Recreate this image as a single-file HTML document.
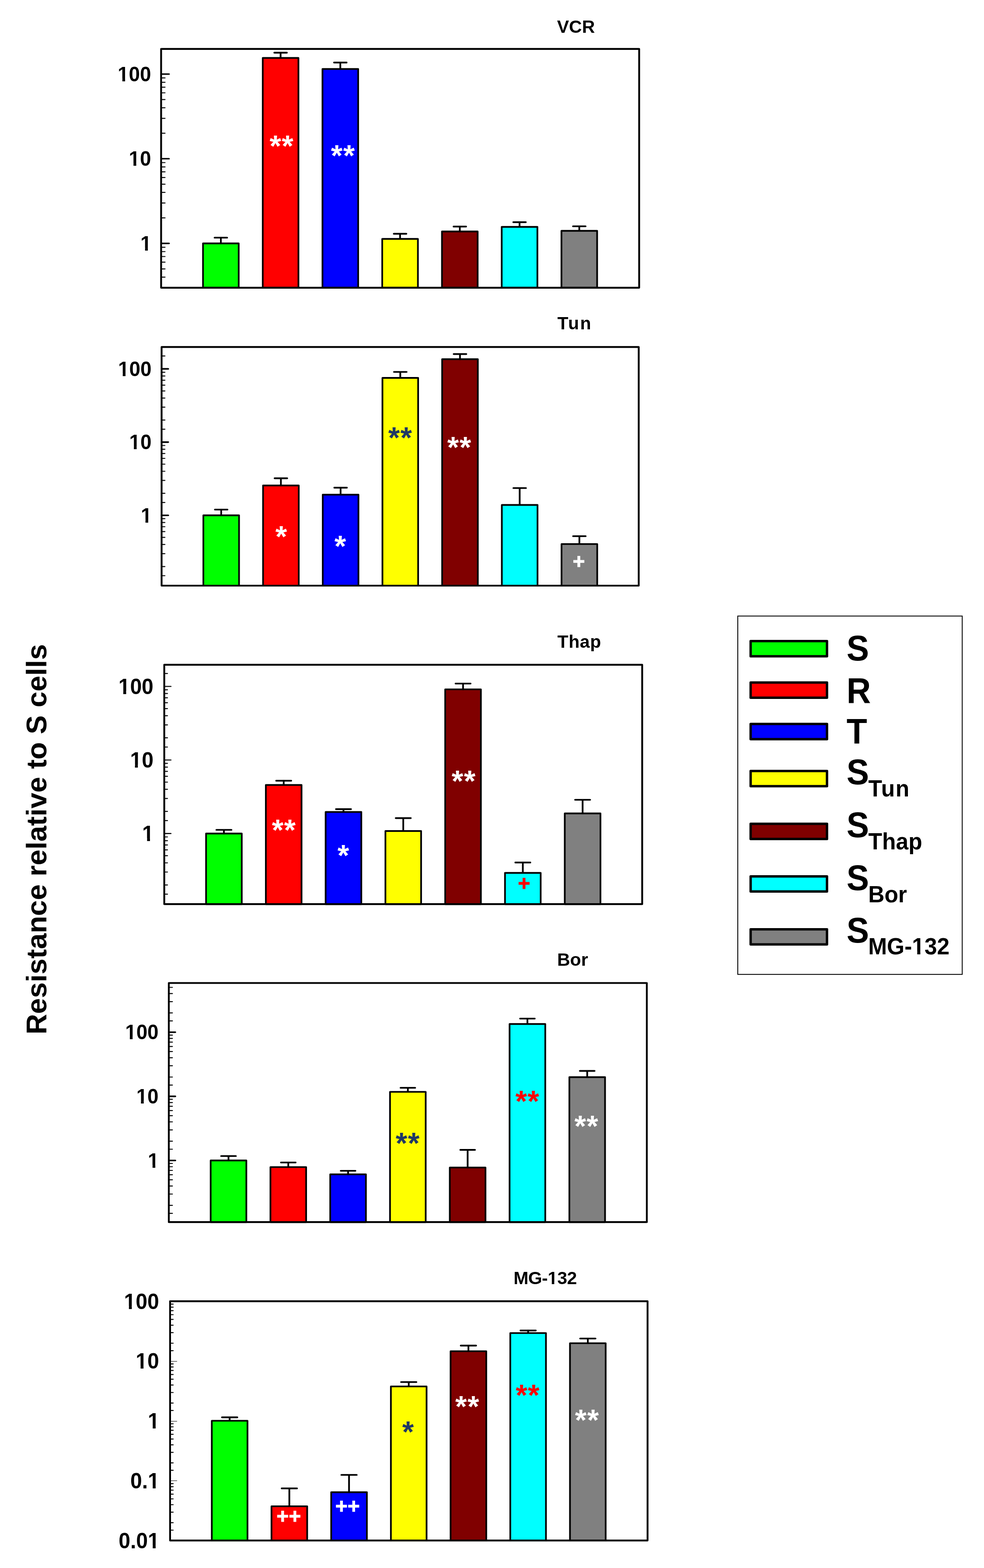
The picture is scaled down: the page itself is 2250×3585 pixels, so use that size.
<!DOCTYPE html>
<html lang="en"><head><meta charset="utf-8"><title>Resistance relative to S cells</title>
<style>html,body{margin:0;padding:0;background:#fff;overflow:hidden;}svg{display:block;}</style></head>
<body><svg width="2250" height="3585" viewBox="0 0 2250 3585" font-family="'Liberation Sans', Arial, Helvetica, sans-serif" font-weight="bold"><line x1="505.00" y1="556.50" x2="505.00" y2="543.40" stroke="#000" stroke-width="4.0" stroke-linecap="butt"/>
<line x1="490.60" y1="543.40" x2="519.40" y2="543.40" stroke="#000" stroke-width="3.8" stroke-linecap="round"/>
<rect x="464.20" y="556.50" width="81.60" height="101.30" fill="#00ff00" stroke="#000" stroke-width="3.9" stroke-linejoin="round"/>
<line x1="641.60" y1="132.50" x2="641.60" y2="120.50" stroke="#000" stroke-width="4.0" stroke-linecap="butt"/>
<line x1="627.20" y1="120.50" x2="656.00" y2="120.50" stroke="#000" stroke-width="3.8" stroke-linecap="round"/>
<rect x="600.80" y="132.50" width="81.60" height="525.30" fill="#ff0000" stroke="#000" stroke-width="3.9" stroke-linejoin="round"/>
<line x1="778.20" y1="157.80" x2="778.20" y2="143.00" stroke="#000" stroke-width="4.0" stroke-linecap="butt"/>
<line x1="763.80" y1="143.00" x2="792.60" y2="143.00" stroke="#000" stroke-width="3.8" stroke-linecap="round"/>
<rect x="737.40" y="157.80" width="81.60" height="500.00" fill="#0000ff" stroke="#000" stroke-width="3.9" stroke-linejoin="round"/>
<line x1="914.80" y1="546.20" x2="914.80" y2="534.50" stroke="#000" stroke-width="4.0" stroke-linecap="butt"/>
<line x1="900.40" y1="534.50" x2="929.20" y2="534.50" stroke="#000" stroke-width="3.8" stroke-linecap="round"/>
<rect x="874.00" y="546.20" width="81.60" height="111.60" fill="#ffff00" stroke="#000" stroke-width="3.9" stroke-linejoin="round"/>
<line x1="1051.40" y1="529.30" x2="1051.40" y2="518.00" stroke="#000" stroke-width="4.0" stroke-linecap="butt"/>
<line x1="1037.00" y1="518.00" x2="1065.80" y2="518.00" stroke="#000" stroke-width="3.8" stroke-linecap="round"/>
<rect x="1010.60" y="529.30" width="81.60" height="128.50" fill="#800000" stroke="#000" stroke-width="3.9" stroke-linejoin="round"/>
<line x1="1188.00" y1="518.70" x2="1188.00" y2="508.00" stroke="#000" stroke-width="4.0" stroke-linecap="butt"/>
<line x1="1173.60" y1="508.00" x2="1202.40" y2="508.00" stroke="#000" stroke-width="3.8" stroke-linecap="round"/>
<rect x="1147.20" y="518.70" width="81.60" height="139.10" fill="#00ffff" stroke="#000" stroke-width="3.9" stroke-linejoin="round"/>
<line x1="1324.60" y1="527.80" x2="1324.60" y2="517.40" stroke="#000" stroke-width="4.0" stroke-linecap="butt"/>
<line x1="1310.20" y1="517.40" x2="1339.00" y2="517.40" stroke="#000" stroke-width="3.8" stroke-linecap="round"/>
<rect x="1283.80" y="527.80" width="81.60" height="130.00" fill="#808080" stroke="#000" stroke-width="3.9" stroke-linejoin="round"/>
<line x1="368.40" y1="633.54" x2="377.40" y2="633.54" stroke="#000" stroke-width="2.2" stroke-linecap="round"/>
<line x1="368.40" y1="614.78" x2="377.40" y2="614.78" stroke="#000" stroke-width="2.2" stroke-linecap="round"/>
<line x1="368.40" y1="599.45" x2="377.40" y2="599.45" stroke="#000" stroke-width="2.2" stroke-linecap="round"/>
<line x1="368.40" y1="586.49" x2="377.40" y2="586.49" stroke="#000" stroke-width="2.2" stroke-linecap="round"/>
<line x1="368.40" y1="575.26" x2="377.40" y2="575.26" stroke="#000" stroke-width="2.2" stroke-linecap="round"/>
<line x1="368.40" y1="565.36" x2="377.40" y2="565.36" stroke="#000" stroke-width="2.2" stroke-linecap="round"/>
<line x1="368.40" y1="498.22" x2="377.40" y2="498.22" stroke="#000" stroke-width="2.2" stroke-linecap="round"/>
<line x1="368.40" y1="464.13" x2="377.40" y2="464.13" stroke="#000" stroke-width="2.2" stroke-linecap="round"/>
<line x1="368.40" y1="439.94" x2="377.40" y2="439.94" stroke="#000" stroke-width="2.2" stroke-linecap="round"/>
<line x1="368.40" y1="421.18" x2="377.40" y2="421.18" stroke="#000" stroke-width="2.2" stroke-linecap="round"/>
<line x1="368.40" y1="405.85" x2="377.40" y2="405.85" stroke="#000" stroke-width="2.2" stroke-linecap="round"/>
<line x1="368.40" y1="392.89" x2="377.40" y2="392.89" stroke="#000" stroke-width="2.2" stroke-linecap="round"/>
<line x1="368.40" y1="381.66" x2="377.40" y2="381.66" stroke="#000" stroke-width="2.2" stroke-linecap="round"/>
<line x1="368.40" y1="371.76" x2="377.40" y2="371.76" stroke="#000" stroke-width="2.2" stroke-linecap="round"/>
<line x1="368.40" y1="304.62" x2="377.40" y2="304.62" stroke="#000" stroke-width="2.2" stroke-linecap="round"/>
<line x1="368.40" y1="270.53" x2="377.40" y2="270.53" stroke="#000" stroke-width="2.2" stroke-linecap="round"/>
<line x1="368.40" y1="246.34" x2="377.40" y2="246.34" stroke="#000" stroke-width="2.2" stroke-linecap="round"/>
<line x1="368.40" y1="227.58" x2="377.40" y2="227.58" stroke="#000" stroke-width="2.2" stroke-linecap="round"/>
<line x1="368.40" y1="212.25" x2="377.40" y2="212.25" stroke="#000" stroke-width="2.2" stroke-linecap="round"/>
<line x1="368.40" y1="199.29" x2="377.40" y2="199.29" stroke="#000" stroke-width="2.2" stroke-linecap="round"/>
<line x1="368.40" y1="188.06" x2="377.40" y2="188.06" stroke="#000" stroke-width="2.2" stroke-linecap="round"/>
<line x1="368.40" y1="178.16" x2="377.40" y2="178.16" stroke="#000" stroke-width="2.2" stroke-linecap="round"/>
<line x1="368.40" y1="556.50" x2="386.70" y2="556.50" stroke="#000" stroke-width="3.3" stroke-linecap="round"/>
<line x1="368.40" y1="362.90" x2="386.70" y2="362.90" stroke="#000" stroke-width="3.3" stroke-linecap="round"/>
<line x1="368.40" y1="169.30" x2="386.70" y2="169.30" stroke="#000" stroke-width="3.3" stroke-linecap="round"/>
<text transform="translate(346.48,572.96) scale(0.9600,1)" font-size="47.7" text-anchor="end" fill="#000" >1</text>
<g transform="translate(346.48,572.96) scale(0.9600,1)"><rect x="-24.61" y="-6.17" width="9.23" height="7.67" fill="#fff"/><rect x="-8.84" y="-6.17" width="8.56" height="7.67" fill="#fff"/></g>
<text transform="translate(345.48,379.36) scale(0.9600,1)" font-size="47.7" text-anchor="end" fill="#000" >10</text>
<g transform="translate(345.48,379.36) scale(0.9600,1)"><rect x="-51.13" y="-6.17" width="9.23" height="7.67" fill="#fff"/><rect x="-35.36" y="-6.17" width="8.56" height="7.67" fill="#fff"/></g>
<text transform="translate(345.48,185.76) scale(0.9600,1)" font-size="47.7" text-anchor="end" fill="#000" >100</text>
<g transform="translate(345.48,185.76) scale(0.9600,1)"><rect x="-77.66" y="-6.17" width="9.23" height="7.67" fill="#fff"/><rect x="-61.89" y="-6.17" width="8.56" height="7.67" fill="#fff"/></g>
<rect x="368.40" y="111.90" width="1093.10" height="545.90" fill="none" stroke="#000" stroke-width="4.2" stroke-linejoin="round"/>
<text x="644.30" y="356.84" font-size="68" text-anchor="middle" fill="#fff" letter-spacing="1.4">**</text>
<text x="784.70" y="378.94" font-size="68" text-anchor="middle" fill="#fff" letter-spacing="1.4">**</text>
<text x="1273.70" y="74.80" font-size="41" text-anchor="start" fill="#000" >VCR</text>
<line x1="505.80" y1="1178.30" x2="505.80" y2="1165.10" stroke="#000" stroke-width="4.0" stroke-linecap="butt"/>
<line x1="491.35" y1="1165.10" x2="520.25" y2="1165.10" stroke="#000" stroke-width="3.8" stroke-linecap="round"/>
<rect x="465.00" y="1178.30" width="81.60" height="160.70" fill="#00ff00" stroke="#000" stroke-width="3.9" stroke-linejoin="round"/>
<line x1="642.30" y1="1110.00" x2="642.30" y2="1093.50" stroke="#000" stroke-width="4.0" stroke-linecap="butt"/>
<line x1="627.85" y1="1093.50" x2="656.75" y2="1093.50" stroke="#000" stroke-width="3.8" stroke-linecap="round"/>
<rect x="601.50" y="1110.00" width="81.60" height="229.00" fill="#ff0000" stroke="#000" stroke-width="3.9" stroke-linejoin="round"/>
<line x1="778.80" y1="1131.00" x2="778.80" y2="1115.00" stroke="#000" stroke-width="4.0" stroke-linecap="butt"/>
<line x1="764.35" y1="1115.00" x2="793.25" y2="1115.00" stroke="#000" stroke-width="3.8" stroke-linecap="round"/>
<rect x="738.00" y="1131.00" width="81.60" height="208.00" fill="#0000ff" stroke="#000" stroke-width="3.9" stroke-linejoin="round"/>
<line x1="915.30" y1="864.00" x2="915.30" y2="850.30" stroke="#000" stroke-width="4.0" stroke-linecap="butt"/>
<line x1="900.85" y1="850.30" x2="929.75" y2="850.30" stroke="#000" stroke-width="3.8" stroke-linecap="round"/>
<rect x="874.50" y="864.00" width="81.60" height="475.00" fill="#ffff00" stroke="#000" stroke-width="3.9" stroke-linejoin="round"/>
<line x1="1051.80" y1="821.30" x2="1051.80" y2="809.50" stroke="#000" stroke-width="4.0" stroke-linecap="butt"/>
<line x1="1037.35" y1="809.50" x2="1066.25" y2="809.50" stroke="#000" stroke-width="3.8" stroke-linecap="round"/>
<rect x="1011.00" y="821.30" width="81.60" height="517.70" fill="#800000" stroke="#000" stroke-width="3.9" stroke-linejoin="round"/>
<line x1="1188.30" y1="1154.50" x2="1188.30" y2="1115.90" stroke="#000" stroke-width="4.0" stroke-linecap="butt"/>
<line x1="1173.85" y1="1115.90" x2="1202.75" y2="1115.90" stroke="#000" stroke-width="3.8" stroke-linecap="round"/>
<rect x="1147.50" y="1154.50" width="81.60" height="184.50" fill="#00ffff" stroke="#000" stroke-width="3.9" stroke-linejoin="round"/>
<line x1="1324.80" y1="1243.90" x2="1324.80" y2="1225.90" stroke="#000" stroke-width="4.0" stroke-linecap="butt"/>
<line x1="1310.35" y1="1225.90" x2="1339.25" y2="1225.90" stroke="#000" stroke-width="3.8" stroke-linecap="round"/>
<rect x="1284.00" y="1243.90" width="81.60" height="95.10" fill="#808080" stroke="#000" stroke-width="3.9" stroke-linejoin="round"/>
<line x1="369.50" y1="1316.26" x2="377.10" y2="1316.26" stroke="#000" stroke-width="2.2" stroke-linecap="round"/>
<line x1="369.50" y1="1295.34" x2="377.10" y2="1295.34" stroke="#000" stroke-width="2.2" stroke-linecap="round"/>
<line x1="369.50" y1="1265.86" x2="377.10" y2="1265.86" stroke="#000" stroke-width="2.2" stroke-linecap="round"/>
<line x1="369.50" y1="1244.94" x2="377.10" y2="1244.94" stroke="#000" stroke-width="2.2" stroke-linecap="round"/>
<line x1="369.50" y1="1228.71" x2="377.10" y2="1228.71" stroke="#000" stroke-width="2.2" stroke-linecap="round"/>
<line x1="369.50" y1="1215.45" x2="377.10" y2="1215.45" stroke="#000" stroke-width="2.2" stroke-linecap="round"/>
<line x1="369.50" y1="1204.24" x2="377.10" y2="1204.24" stroke="#000" stroke-width="2.2" stroke-linecap="round"/>
<line x1="369.50" y1="1194.53" x2="377.10" y2="1194.53" stroke="#000" stroke-width="2.2" stroke-linecap="round"/>
<line x1="369.50" y1="1185.96" x2="377.10" y2="1185.96" stroke="#000" stroke-width="2.2" stroke-linecap="round"/>
<line x1="369.50" y1="1148.81" x2="377.10" y2="1148.81" stroke="#000" stroke-width="2.2" stroke-linecap="round"/>
<line x1="369.50" y1="1127.89" x2="377.10" y2="1127.89" stroke="#000" stroke-width="2.2" stroke-linecap="round"/>
<line x1="369.50" y1="1098.41" x2="377.10" y2="1098.41" stroke="#000" stroke-width="2.2" stroke-linecap="round"/>
<line x1="369.50" y1="1077.49" x2="377.10" y2="1077.49" stroke="#000" stroke-width="2.2" stroke-linecap="round"/>
<line x1="369.50" y1="1061.26" x2="377.10" y2="1061.26" stroke="#000" stroke-width="2.2" stroke-linecap="round"/>
<line x1="369.50" y1="1048.00" x2="377.10" y2="1048.00" stroke="#000" stroke-width="2.2" stroke-linecap="round"/>
<line x1="369.50" y1="1036.79" x2="377.10" y2="1036.79" stroke="#000" stroke-width="2.2" stroke-linecap="round"/>
<line x1="369.50" y1="1027.08" x2="377.10" y2="1027.08" stroke="#000" stroke-width="2.2" stroke-linecap="round"/>
<line x1="369.50" y1="1018.51" x2="377.10" y2="1018.51" stroke="#000" stroke-width="2.2" stroke-linecap="round"/>
<line x1="369.50" y1="981.36" x2="377.10" y2="981.36" stroke="#000" stroke-width="2.2" stroke-linecap="round"/>
<line x1="369.50" y1="960.44" x2="377.10" y2="960.44" stroke="#000" stroke-width="2.2" stroke-linecap="round"/>
<line x1="369.50" y1="930.96" x2="377.10" y2="930.96" stroke="#000" stroke-width="2.2" stroke-linecap="round"/>
<line x1="369.50" y1="910.04" x2="377.10" y2="910.04" stroke="#000" stroke-width="2.2" stroke-linecap="round"/>
<line x1="369.50" y1="893.81" x2="377.10" y2="893.81" stroke="#000" stroke-width="2.2" stroke-linecap="round"/>
<line x1="369.50" y1="880.55" x2="377.10" y2="880.55" stroke="#000" stroke-width="2.2" stroke-linecap="round"/>
<line x1="369.50" y1="869.34" x2="377.10" y2="869.34" stroke="#000" stroke-width="2.2" stroke-linecap="round"/>
<line x1="369.50" y1="859.63" x2="377.10" y2="859.63" stroke="#000" stroke-width="2.2" stroke-linecap="round"/>
<line x1="369.50" y1="851.06" x2="377.10" y2="851.06" stroke="#000" stroke-width="2.2" stroke-linecap="round"/>
<line x1="369.50" y1="813.91" x2="377.10" y2="813.91" stroke="#000" stroke-width="2.2" stroke-linecap="round"/>
<line x1="369.50" y1="1178.30" x2="384.80" y2="1178.30" stroke="#000" stroke-width="3.6" stroke-linecap="round"/>
<line x1="369.50" y1="1010.85" x2="384.80" y2="1010.85" stroke="#000" stroke-width="3.6" stroke-linecap="round"/>
<line x1="369.50" y1="843.40" x2="384.80" y2="843.40" stroke="#000" stroke-width="3.6" stroke-linecap="round"/>
<text transform="translate(347.38,1194.76) scale(0.9600,1)" font-size="47.7" text-anchor="end" fill="#000" >1</text>
<g transform="translate(347.38,1194.76) scale(0.9600,1)"><rect x="-24.61" y="-6.17" width="9.23" height="7.67" fill="#fff"/><rect x="-8.84" y="-6.17" width="8.56" height="7.67" fill="#fff"/></g>
<text transform="translate(346.38,1027.31) scale(0.9600,1)" font-size="47.7" text-anchor="end" fill="#000" >10</text>
<g transform="translate(346.38,1027.31) scale(0.9600,1)"><rect x="-51.13" y="-6.17" width="9.23" height="7.67" fill="#fff"/><rect x="-35.36" y="-6.17" width="8.56" height="7.67" fill="#fff"/></g>
<text transform="translate(346.38,859.86) scale(0.9600,1)" font-size="47.7" text-anchor="end" fill="#000" >100</text>
<g transform="translate(346.38,859.86) scale(0.9600,1)"><rect x="-77.66" y="-6.17" width="9.23" height="7.67" fill="#fff"/><rect x="-61.89" y="-6.17" width="8.56" height="7.67" fill="#fff"/></g>
<rect x="369.50" y="793.40" width="1091.00" height="545.60" fill="none" stroke="#000" stroke-width="4.2" stroke-linejoin="round"/>
<text x="642.90" y="1249.74" font-size="68" text-anchor="middle" fill="#fff" >*</text>
<text x="778.00" y="1272.04" font-size="68" text-anchor="middle" fill="#fff" >*</text>
<text x="915.50" y="1023.84" font-size="68" text-anchor="middle" fill="#1f3864" letter-spacing="1.4">**</text>
<text x="1050.70" y="1045.84" font-size="68" text-anchor="middle" fill="#fff" letter-spacing="1.4">**</text>
<text x="1323.40" y="1299.98" font-size="48" text-anchor="middle" fill="#fff" stroke="#fff" stroke-width="1">+</text>
<text x="1274.50" y="752.80" font-size="41" text-anchor="start" fill="#000" letter-spacing="2.5">Tun</text>
<line x1="512.00" y1="1905.80" x2="512.00" y2="1897.40" stroke="#000" stroke-width="4.0" stroke-linecap="butt"/>
<line x1="494.75" y1="1897.40" x2="529.25" y2="1897.40" stroke="#000" stroke-width="3.8" stroke-linecap="round"/>
<rect x="471.20" y="1905.80" width="81.60" height="161.40" fill="#00ff00" stroke="#000" stroke-width="3.9" stroke-linejoin="round"/>
<line x1="648.70" y1="1794.70" x2="648.70" y2="1785.00" stroke="#000" stroke-width="4.0" stroke-linecap="butt"/>
<line x1="631.45" y1="1785.00" x2="665.95" y2="1785.00" stroke="#000" stroke-width="3.8" stroke-linecap="round"/>
<rect x="607.90" y="1794.70" width="81.60" height="272.50" fill="#ff0000" stroke="#000" stroke-width="3.9" stroke-linejoin="round"/>
<line x1="785.40" y1="1856.50" x2="785.40" y2="1850.00" stroke="#000" stroke-width="4.0" stroke-linecap="butt"/>
<line x1="768.15" y1="1850.00" x2="802.65" y2="1850.00" stroke="#000" stroke-width="3.8" stroke-linecap="round"/>
<rect x="744.60" y="1856.50" width="81.60" height="210.70" fill="#0000ff" stroke="#000" stroke-width="3.9" stroke-linejoin="round"/>
<line x1="922.10" y1="1900.00" x2="922.10" y2="1870.50" stroke="#000" stroke-width="4.0" stroke-linecap="butt"/>
<line x1="904.85" y1="1870.50" x2="939.35" y2="1870.50" stroke="#000" stroke-width="3.8" stroke-linecap="round"/>
<rect x="881.30" y="1900.00" width="81.60" height="167.20" fill="#ffff00" stroke="#000" stroke-width="3.9" stroke-linejoin="round"/>
<line x1="1058.80" y1="1576.10" x2="1058.80" y2="1562.80" stroke="#000" stroke-width="4.0" stroke-linecap="butt"/>
<line x1="1041.55" y1="1562.80" x2="1076.05" y2="1562.80" stroke="#000" stroke-width="3.8" stroke-linecap="round"/>
<rect x="1018.00" y="1576.10" width="81.60" height="491.10" fill="#800000" stroke="#000" stroke-width="3.9" stroke-linejoin="round"/>
<line x1="1195.50" y1="1995.80" x2="1195.50" y2="1972.00" stroke="#000" stroke-width="4.0" stroke-linecap="butt"/>
<line x1="1178.25" y1="1972.00" x2="1212.75" y2="1972.00" stroke="#000" stroke-width="3.8" stroke-linecap="round"/>
<rect x="1154.70" y="1995.80" width="81.60" height="71.40" fill="#00ffff" stroke="#000" stroke-width="3.9" stroke-linejoin="round"/>
<line x1="1332.20" y1="1859.80" x2="1332.20" y2="1828.60" stroke="#000" stroke-width="4.0" stroke-linecap="butt"/>
<line x1="1314.95" y1="1828.60" x2="1349.45" y2="1828.60" stroke="#000" stroke-width="3.8" stroke-linecap="round"/>
<rect x="1291.40" y="1859.80" width="81.60" height="207.40" fill="#808080" stroke="#000" stroke-width="3.9" stroke-linejoin="round"/>
<line x1="375.60" y1="2044.38" x2="383.00" y2="2044.38" stroke="#000" stroke-width="2.2" stroke-linecap="round"/>
<line x1="375.60" y1="2023.37" x2="383.00" y2="2023.37" stroke="#000" stroke-width="2.2" stroke-linecap="round"/>
<line x1="375.60" y1="1993.75" x2="383.00" y2="1993.75" stroke="#000" stroke-width="2.2" stroke-linecap="round"/>
<line x1="375.60" y1="1972.73" x2="383.00" y2="1972.73" stroke="#000" stroke-width="2.2" stroke-linecap="round"/>
<line x1="375.60" y1="1956.43" x2="383.00" y2="1956.43" stroke="#000" stroke-width="2.2" stroke-linecap="round"/>
<line x1="375.60" y1="1943.11" x2="383.00" y2="1943.11" stroke="#000" stroke-width="2.2" stroke-linecap="round"/>
<line x1="375.60" y1="1931.85" x2="383.00" y2="1931.85" stroke="#000" stroke-width="2.2" stroke-linecap="round"/>
<line x1="375.60" y1="1922.10" x2="383.00" y2="1922.10" stroke="#000" stroke-width="2.2" stroke-linecap="round"/>
<line x1="375.60" y1="1913.50" x2="383.00" y2="1913.50" stroke="#000" stroke-width="2.2" stroke-linecap="round"/>
<line x1="375.60" y1="1876.18" x2="383.00" y2="1876.18" stroke="#000" stroke-width="2.2" stroke-linecap="round"/>
<line x1="375.60" y1="1855.17" x2="383.00" y2="1855.17" stroke="#000" stroke-width="2.2" stroke-linecap="round"/>
<line x1="375.60" y1="1825.55" x2="383.00" y2="1825.55" stroke="#000" stroke-width="2.2" stroke-linecap="round"/>
<line x1="375.60" y1="1804.53" x2="383.00" y2="1804.53" stroke="#000" stroke-width="2.2" stroke-linecap="round"/>
<line x1="375.60" y1="1788.23" x2="383.00" y2="1788.23" stroke="#000" stroke-width="2.2" stroke-linecap="round"/>
<line x1="375.60" y1="1774.91" x2="383.00" y2="1774.91" stroke="#000" stroke-width="2.2" stroke-linecap="round"/>
<line x1="375.60" y1="1763.65" x2="383.00" y2="1763.65" stroke="#000" stroke-width="2.2" stroke-linecap="round"/>
<line x1="375.60" y1="1753.90" x2="383.00" y2="1753.90" stroke="#000" stroke-width="2.2" stroke-linecap="round"/>
<line x1="375.60" y1="1745.30" x2="383.00" y2="1745.30" stroke="#000" stroke-width="2.2" stroke-linecap="round"/>
<line x1="375.60" y1="1707.98" x2="383.00" y2="1707.98" stroke="#000" stroke-width="2.2" stroke-linecap="round"/>
<line x1="375.60" y1="1686.97" x2="383.00" y2="1686.97" stroke="#000" stroke-width="2.2" stroke-linecap="round"/>
<line x1="375.60" y1="1657.35" x2="383.00" y2="1657.35" stroke="#000" stroke-width="2.2" stroke-linecap="round"/>
<line x1="375.60" y1="1636.33" x2="383.00" y2="1636.33" stroke="#000" stroke-width="2.2" stroke-linecap="round"/>
<line x1="375.60" y1="1620.03" x2="383.00" y2="1620.03" stroke="#000" stroke-width="2.2" stroke-linecap="round"/>
<line x1="375.60" y1="1606.71" x2="383.00" y2="1606.71" stroke="#000" stroke-width="2.2" stroke-linecap="round"/>
<line x1="375.60" y1="1595.45" x2="383.00" y2="1595.45" stroke="#000" stroke-width="2.2" stroke-linecap="round"/>
<line x1="375.60" y1="1585.70" x2="383.00" y2="1585.70" stroke="#000" stroke-width="2.2" stroke-linecap="round"/>
<line x1="375.60" y1="1577.10" x2="383.00" y2="1577.10" stroke="#000" stroke-width="2.2" stroke-linecap="round"/>
<line x1="375.60" y1="1539.78" x2="383.00" y2="1539.78" stroke="#000" stroke-width="2.2" stroke-linecap="round"/>
<line x1="375.60" y1="1905.80" x2="390.90" y2="1905.80" stroke="#000" stroke-width="2.4" stroke-linecap="round"/>
<line x1="375.60" y1="1737.60" x2="390.90" y2="1737.60" stroke="#000" stroke-width="2.4" stroke-linecap="round"/>
<line x1="375.60" y1="1569.40" x2="390.90" y2="1569.40" stroke="#000" stroke-width="2.4" stroke-linecap="round"/>
<text transform="translate(351.87,1923.08) scale(0.9600,1)" font-size="50.1" text-anchor="end" fill="#000" >1</text>
<g transform="translate(351.87,1923.08) scale(0.9600,1)"><rect x="-25.85" y="-6.41" width="9.69" height="7.91" fill="#fff"/><rect x="-9.29" y="-6.41" width="8.99" height="7.91" fill="#fff"/></g>
<text transform="translate(350.87,1754.88) scale(0.9600,1)" font-size="50.1" text-anchor="end" fill="#000" >10</text>
<g transform="translate(350.87,1754.88) scale(0.9600,1)"><rect x="-53.71" y="-6.41" width="9.69" height="7.91" fill="#fff"/><rect x="-37.14" y="-6.41" width="8.99" height="7.91" fill="#fff"/></g>
<text transform="translate(350.87,1586.68) scale(0.9600,1)" font-size="50.1" text-anchor="end" fill="#000" >100</text>
<g transform="translate(350.87,1586.68) scale(0.9600,1)"><rect x="-81.56" y="-6.41" width="9.69" height="7.91" fill="#fff"/><rect x="-65.00" y="-6.41" width="8.99" height="7.91" fill="#fff"/></g>
<rect x="375.60" y="1519.80" width="1092.80" height="547.40" fill="none" stroke="#000" stroke-width="4.2" stroke-linejoin="round"/>
<text x="649.60" y="1920.74" font-size="68" text-anchor="middle" fill="#fff" letter-spacing="1.4">**</text>
<text x="785.00" y="1978.74" font-size="68" text-anchor="middle" fill="#fff" >*</text>
<text x="1060.70" y="1808.74" font-size="68" text-anchor="middle" fill="#fff" letter-spacing="1.4">**</text>
<text x="1198.30" y="2035.98" font-size="48" text-anchor="middle" fill="#ff0000" stroke="#ff0000" stroke-width="1">+</text>
<text x="1274.50" y="1480.80" font-size="41" text-anchor="start" fill="#000" letter-spacing="0.6">Thap</text>
<line x1="522.50" y1="2653.30" x2="522.50" y2="2643.20" stroke="#000" stroke-width="4.0" stroke-linecap="butt"/>
<line x1="505.65" y1="2643.20" x2="539.35" y2="2643.20" stroke="#000" stroke-width="3.8" stroke-linecap="round"/>
<rect x="481.70" y="2653.30" width="81.60" height="140.90" fill="#00ff00" stroke="#000" stroke-width="3.9" stroke-linejoin="round"/>
<line x1="659.20" y1="2668.40" x2="659.20" y2="2657.80" stroke="#000" stroke-width="4.0" stroke-linecap="butt"/>
<line x1="642.35" y1="2657.80" x2="676.05" y2="2657.80" stroke="#000" stroke-width="3.8" stroke-linecap="round"/>
<rect x="618.40" y="2668.40" width="81.60" height="125.80" fill="#ff0000" stroke="#000" stroke-width="3.9" stroke-linejoin="round"/>
<line x1="795.90" y1="2685.00" x2="795.90" y2="2676.80" stroke="#000" stroke-width="4.0" stroke-linecap="butt"/>
<line x1="779.05" y1="2676.80" x2="812.75" y2="2676.80" stroke="#000" stroke-width="3.8" stroke-linecap="round"/>
<rect x="755.10" y="2685.00" width="81.60" height="109.20" fill="#0000ff" stroke="#000" stroke-width="3.9" stroke-linejoin="round"/>
<line x1="932.60" y1="2496.40" x2="932.60" y2="2487.10" stroke="#000" stroke-width="4.0" stroke-linecap="butt"/>
<line x1="915.75" y1="2487.10" x2="949.45" y2="2487.10" stroke="#000" stroke-width="3.8" stroke-linecap="round"/>
<rect x="891.80" y="2496.40" width="81.60" height="297.80" fill="#ffff00" stroke="#000" stroke-width="3.9" stroke-linejoin="round"/>
<line x1="1069.30" y1="2669.40" x2="1069.30" y2="2629.00" stroke="#000" stroke-width="4.0" stroke-linecap="butt"/>
<line x1="1052.45" y1="2629.00" x2="1086.15" y2="2629.00" stroke="#000" stroke-width="3.8" stroke-linecap="round"/>
<rect x="1028.50" y="2669.40" width="81.60" height="124.80" fill="#800000" stroke="#000" stroke-width="3.9" stroke-linejoin="round"/>
<line x1="1206.00" y1="2341.30" x2="1206.00" y2="2328.80" stroke="#000" stroke-width="4.0" stroke-linecap="butt"/>
<line x1="1189.15" y1="2328.80" x2="1222.85" y2="2328.80" stroke="#000" stroke-width="3.8" stroke-linecap="round"/>
<rect x="1165.20" y="2341.30" width="81.60" height="452.90" fill="#00ffff" stroke="#000" stroke-width="3.9" stroke-linejoin="round"/>
<line x1="1342.70" y1="2462.70" x2="1342.70" y2="2448.50" stroke="#000" stroke-width="4.0" stroke-linecap="butt"/>
<line x1="1325.85" y1="2448.50" x2="1359.55" y2="2448.50" stroke="#000" stroke-width="3.8" stroke-linecap="round"/>
<rect x="1301.90" y="2462.70" width="81.60" height="331.50" fill="#808080" stroke="#000" stroke-width="3.9" stroke-linejoin="round"/>
<line x1="386.00" y1="2774.13" x2="394.30" y2="2774.13" stroke="#000" stroke-width="2.2" stroke-linecap="round"/>
<line x1="386.00" y1="2755.80" x2="394.30" y2="2755.80" stroke="#000" stroke-width="2.2" stroke-linecap="round"/>
<line x1="386.00" y1="2729.98" x2="394.30" y2="2729.98" stroke="#000" stroke-width="2.2" stroke-linecap="round"/>
<line x1="386.00" y1="2711.66" x2="394.30" y2="2711.66" stroke="#000" stroke-width="2.2" stroke-linecap="round"/>
<line x1="386.00" y1="2697.45" x2="394.30" y2="2697.45" stroke="#000" stroke-width="2.2" stroke-linecap="round"/>
<line x1="386.00" y1="2685.83" x2="394.30" y2="2685.83" stroke="#000" stroke-width="2.2" stroke-linecap="round"/>
<line x1="386.00" y1="2676.02" x2="394.30" y2="2676.02" stroke="#000" stroke-width="2.2" stroke-linecap="round"/>
<line x1="386.00" y1="2667.51" x2="394.30" y2="2667.51" stroke="#000" stroke-width="2.2" stroke-linecap="round"/>
<line x1="386.00" y1="2660.01" x2="394.30" y2="2660.01" stroke="#000" stroke-width="2.2" stroke-linecap="round"/>
<line x1="386.00" y1="2627.48" x2="394.30" y2="2627.48" stroke="#000" stroke-width="2.2" stroke-linecap="round"/>
<line x1="386.00" y1="2609.15" x2="394.30" y2="2609.15" stroke="#000" stroke-width="2.2" stroke-linecap="round"/>
<line x1="386.00" y1="2583.33" x2="394.30" y2="2583.33" stroke="#000" stroke-width="2.2" stroke-linecap="round"/>
<line x1="386.00" y1="2565.01" x2="394.30" y2="2565.01" stroke="#000" stroke-width="2.2" stroke-linecap="round"/>
<line x1="386.00" y1="2550.80" x2="394.30" y2="2550.80" stroke="#000" stroke-width="2.2" stroke-linecap="round"/>
<line x1="386.00" y1="2539.18" x2="394.30" y2="2539.18" stroke="#000" stroke-width="2.2" stroke-linecap="round"/>
<line x1="386.00" y1="2529.37" x2="394.30" y2="2529.37" stroke="#000" stroke-width="2.2" stroke-linecap="round"/>
<line x1="386.00" y1="2520.86" x2="394.30" y2="2520.86" stroke="#000" stroke-width="2.2" stroke-linecap="round"/>
<line x1="386.00" y1="2513.36" x2="394.30" y2="2513.36" stroke="#000" stroke-width="2.2" stroke-linecap="round"/>
<line x1="386.00" y1="2480.83" x2="394.30" y2="2480.83" stroke="#000" stroke-width="2.2" stroke-linecap="round"/>
<line x1="386.00" y1="2462.50" x2="394.30" y2="2462.50" stroke="#000" stroke-width="2.2" stroke-linecap="round"/>
<line x1="386.00" y1="2436.68" x2="394.30" y2="2436.68" stroke="#000" stroke-width="2.2" stroke-linecap="round"/>
<line x1="386.00" y1="2418.36" x2="394.30" y2="2418.36" stroke="#000" stroke-width="2.2" stroke-linecap="round"/>
<line x1="386.00" y1="2404.15" x2="394.30" y2="2404.15" stroke="#000" stroke-width="2.2" stroke-linecap="round"/>
<line x1="386.00" y1="2392.53" x2="394.30" y2="2392.53" stroke="#000" stroke-width="2.2" stroke-linecap="round"/>
<line x1="386.00" y1="2382.72" x2="394.30" y2="2382.72" stroke="#000" stroke-width="2.2" stroke-linecap="round"/>
<line x1="386.00" y1="2374.21" x2="394.30" y2="2374.21" stroke="#000" stroke-width="2.2" stroke-linecap="round"/>
<line x1="386.00" y1="2366.71" x2="394.30" y2="2366.71" stroke="#000" stroke-width="2.2" stroke-linecap="round"/>
<line x1="386.00" y1="2334.18" x2="394.30" y2="2334.18" stroke="#000" stroke-width="2.2" stroke-linecap="round"/>
<line x1="386.00" y1="2315.85" x2="394.30" y2="2315.85" stroke="#000" stroke-width="2.2" stroke-linecap="round"/>
<line x1="386.00" y1="2290.03" x2="394.30" y2="2290.03" stroke="#000" stroke-width="2.2" stroke-linecap="round"/>
<line x1="386.00" y1="2271.71" x2="394.30" y2="2271.71" stroke="#000" stroke-width="2.2" stroke-linecap="round"/>
<line x1="386.00" y1="2257.50" x2="394.30" y2="2257.50" stroke="#000" stroke-width="2.2" stroke-linecap="round"/>
<line x1="386.00" y1="2653.30" x2="401.00" y2="2653.30" stroke="#000" stroke-width="3.6" stroke-linecap="round"/>
<line x1="386.00" y1="2506.65" x2="401.00" y2="2506.65" stroke="#000" stroke-width="3.6" stroke-linecap="round"/>
<line x1="386.00" y1="2360.00" x2="401.00" y2="2360.00" stroke="#000" stroke-width="3.6" stroke-linecap="round"/>
<text transform="translate(363.58,2669.76) scale(0.9600,1)" font-size="47.7" text-anchor="end" fill="#000" >1</text>
<g transform="translate(363.58,2669.76) scale(0.9600,1)"><rect x="-24.61" y="-6.17" width="9.23" height="7.67" fill="#fff"/><rect x="-8.84" y="-6.17" width="8.56" height="7.67" fill="#fff"/></g>
<text transform="translate(362.58,2523.11) scale(0.9600,1)" font-size="47.7" text-anchor="end" fill="#000" >10</text>
<g transform="translate(362.58,2523.11) scale(0.9600,1)"><rect x="-51.13" y="-6.17" width="9.23" height="7.67" fill="#fff"/><rect x="-35.36" y="-6.17" width="8.56" height="7.67" fill="#fff"/></g>
<text transform="translate(362.58,2376.46) scale(0.9600,1)" font-size="47.7" text-anchor="end" fill="#000" >100</text>
<g transform="translate(362.58,2376.46) scale(0.9600,1)"><rect x="-77.66" y="-6.17" width="9.23" height="7.67" fill="#fff"/><rect x="-61.89" y="-6.17" width="8.56" height="7.67" fill="#fff"/></g>
<rect x="386.00" y="2247.50" width="1093.00" height="546.70" fill="none" stroke="#000" stroke-width="4.2" stroke-linejoin="round"/>
<text x="932.70" y="2636.84" font-size="68" text-anchor="middle" fill="#1f3864" letter-spacing="1.4">**</text>
<text x="1206.30" y="2541.04" font-size="68" text-anchor="middle" fill="#ff0000" letter-spacing="1.4">**</text>
<text x="1341.30" y="2598.24" font-size="68" text-anchor="middle" fill="#fff" letter-spacing="1.4">**</text>
<text x="1274.00" y="2207.90" font-size="41" text-anchor="start" fill="#000" >Bor</text>
<line x1="525.10" y1="3248.40" x2="525.10" y2="3240.50" stroke="#000" stroke-width="4.0" stroke-linecap="butt"/>
<line x1="507.50" y1="3240.50" x2="542.70" y2="3240.50" stroke="#000" stroke-width="3.8" stroke-linecap="round"/>
<rect x="484.30" y="3248.40" width="81.60" height="273.70" fill="#00ff00" stroke="#000" stroke-width="3.9" stroke-linejoin="round"/>
<line x1="661.60" y1="3443.90" x2="661.60" y2="3403.00" stroke="#000" stroke-width="4.0" stroke-linecap="butt"/>
<line x1="644.00" y1="3403.00" x2="679.20" y2="3403.00" stroke="#000" stroke-width="3.8" stroke-linecap="round"/>
<rect x="620.80" y="3443.90" width="81.60" height="78.20" fill="#ff0000" stroke="#000" stroke-width="3.9" stroke-linejoin="round"/>
<line x1="798.10" y1="3411.70" x2="798.10" y2="3372.20" stroke="#000" stroke-width="4.0" stroke-linecap="butt"/>
<line x1="780.50" y1="3372.20" x2="815.70" y2="3372.20" stroke="#000" stroke-width="3.8" stroke-linecap="round"/>
<rect x="757.30" y="3411.70" width="81.60" height="110.40" fill="#0000ff" stroke="#000" stroke-width="3.9" stroke-linejoin="round"/>
<line x1="934.60" y1="3169.90" x2="934.60" y2="3159.90" stroke="#000" stroke-width="4.0" stroke-linecap="butt"/>
<line x1="917.00" y1="3159.90" x2="952.20" y2="3159.90" stroke="#000" stroke-width="3.8" stroke-linecap="round"/>
<rect x="893.80" y="3169.90" width="81.60" height="352.20" fill="#ffff00" stroke="#000" stroke-width="3.9" stroke-linejoin="round"/>
<line x1="1071.10" y1="3089.40" x2="1071.10" y2="3076.50" stroke="#000" stroke-width="4.0" stroke-linecap="butt"/>
<line x1="1053.50" y1="3076.50" x2="1088.70" y2="3076.50" stroke="#000" stroke-width="3.8" stroke-linecap="round"/>
<rect x="1030.30" y="3089.40" width="81.60" height="432.70" fill="#800000" stroke="#000" stroke-width="3.9" stroke-linejoin="round"/>
<line x1="1207.60" y1="3047.90" x2="1207.60" y2="3042.00" stroke="#000" stroke-width="4.0" stroke-linecap="butt"/>
<line x1="1190.00" y1="3042.00" x2="1225.20" y2="3042.00" stroke="#000" stroke-width="3.8" stroke-linecap="round"/>
<rect x="1166.80" y="3047.90" width="81.60" height="474.20" fill="#00ffff" stroke="#000" stroke-width="3.9" stroke-linejoin="round"/>
<line x1="1344.10" y1="3071.10" x2="1344.10" y2="3060.30" stroke="#000" stroke-width="4.0" stroke-linecap="butt"/>
<line x1="1326.50" y1="3060.30" x2="1361.70" y2="3060.30" stroke="#000" stroke-width="3.8" stroke-linecap="round"/>
<rect x="1303.30" y="3071.10" width="81.60" height="451.00" fill="#808080" stroke="#000" stroke-width="3.9" stroke-linejoin="round"/>
<line x1="388.90" y1="3498.51" x2="396.00" y2="3498.51" stroke="#000" stroke-width="2.2" stroke-linecap="round"/>
<line x1="388.90" y1="3481.42" x2="396.00" y2="3481.42" stroke="#000" stroke-width="2.2" stroke-linecap="round"/>
<line x1="388.90" y1="3457.33" x2="396.00" y2="3457.33" stroke="#000" stroke-width="2.2" stroke-linecap="round"/>
<line x1="388.90" y1="3440.24" x2="396.00" y2="3440.24" stroke="#000" stroke-width="2.2" stroke-linecap="round"/>
<line x1="388.90" y1="3426.98" x2="396.00" y2="3426.98" stroke="#000" stroke-width="2.2" stroke-linecap="round"/>
<line x1="388.90" y1="3416.15" x2="396.00" y2="3416.15" stroke="#000" stroke-width="2.2" stroke-linecap="round"/>
<line x1="388.90" y1="3406.99" x2="396.00" y2="3406.99" stroke="#000" stroke-width="2.2" stroke-linecap="round"/>
<line x1="388.90" y1="3399.06" x2="396.00" y2="3399.06" stroke="#000" stroke-width="2.2" stroke-linecap="round"/>
<line x1="388.90" y1="3392.06" x2="396.00" y2="3392.06" stroke="#000" stroke-width="2.2" stroke-linecap="round"/>
<line x1="388.90" y1="3361.71" x2="396.00" y2="3361.71" stroke="#000" stroke-width="2.2" stroke-linecap="round"/>
<line x1="388.90" y1="3344.62" x2="396.00" y2="3344.62" stroke="#000" stroke-width="2.2" stroke-linecap="round"/>
<line x1="388.90" y1="3320.53" x2="396.00" y2="3320.53" stroke="#000" stroke-width="2.2" stroke-linecap="round"/>
<line x1="388.90" y1="3303.44" x2="396.00" y2="3303.44" stroke="#000" stroke-width="2.2" stroke-linecap="round"/>
<line x1="388.90" y1="3290.18" x2="396.00" y2="3290.18" stroke="#000" stroke-width="2.2" stroke-linecap="round"/>
<line x1="388.90" y1="3279.35" x2="396.00" y2="3279.35" stroke="#000" stroke-width="2.2" stroke-linecap="round"/>
<line x1="388.90" y1="3270.19" x2="396.00" y2="3270.19" stroke="#000" stroke-width="2.2" stroke-linecap="round"/>
<line x1="388.90" y1="3262.26" x2="396.00" y2="3262.26" stroke="#000" stroke-width="2.2" stroke-linecap="round"/>
<line x1="388.90" y1="3255.26" x2="396.00" y2="3255.26" stroke="#000" stroke-width="2.2" stroke-linecap="round"/>
<line x1="388.90" y1="3224.91" x2="396.00" y2="3224.91" stroke="#000" stroke-width="2.2" stroke-linecap="round"/>
<line x1="388.90" y1="3207.82" x2="396.00" y2="3207.82" stroke="#000" stroke-width="2.2" stroke-linecap="round"/>
<line x1="388.90" y1="3183.73" x2="396.00" y2="3183.73" stroke="#000" stroke-width="2.2" stroke-linecap="round"/>
<line x1="388.90" y1="3166.64" x2="396.00" y2="3166.64" stroke="#000" stroke-width="2.2" stroke-linecap="round"/>
<line x1="388.90" y1="3153.38" x2="396.00" y2="3153.38" stroke="#000" stroke-width="2.2" stroke-linecap="round"/>
<line x1="388.90" y1="3142.55" x2="396.00" y2="3142.55" stroke="#000" stroke-width="2.2" stroke-linecap="round"/>
<line x1="388.90" y1="3133.39" x2="396.00" y2="3133.39" stroke="#000" stroke-width="2.2" stroke-linecap="round"/>
<line x1="388.90" y1="3125.46" x2="396.00" y2="3125.46" stroke="#000" stroke-width="2.2" stroke-linecap="round"/>
<line x1="388.90" y1="3118.46" x2="396.00" y2="3118.46" stroke="#000" stroke-width="2.2" stroke-linecap="round"/>
<line x1="388.90" y1="3088.11" x2="396.00" y2="3088.11" stroke="#000" stroke-width="2.2" stroke-linecap="round"/>
<line x1="388.90" y1="3071.02" x2="396.00" y2="3071.02" stroke="#000" stroke-width="2.2" stroke-linecap="round"/>
<line x1="388.90" y1="3046.93" x2="396.00" y2="3046.93" stroke="#000" stroke-width="2.2" stroke-linecap="round"/>
<line x1="388.90" y1="3029.84" x2="396.00" y2="3029.84" stroke="#000" stroke-width="2.2" stroke-linecap="round"/>
<line x1="388.90" y1="3016.58" x2="396.00" y2="3016.58" stroke="#000" stroke-width="2.2" stroke-linecap="round"/>
<line x1="388.90" y1="3005.75" x2="396.00" y2="3005.75" stroke="#000" stroke-width="2.2" stroke-linecap="round"/>
<line x1="388.90" y1="2996.59" x2="396.00" y2="2996.59" stroke="#000" stroke-width="2.2" stroke-linecap="round"/>
<line x1="388.90" y1="2988.66" x2="396.00" y2="2988.66" stroke="#000" stroke-width="2.2" stroke-linecap="round"/>
<line x1="388.90" y1="2981.66" x2="396.00" y2="2981.66" stroke="#000" stroke-width="2.2" stroke-linecap="round"/>
<line x1="388.90" y1="3385.50" x2="404.90" y2="3385.50" stroke="#000" stroke-width="1.0" stroke-linecap="butt"/>
<line x1="388.90" y1="3249.50" x2="404.90" y2="3249.50" stroke="#000" stroke-width="1.0" stroke-linecap="butt"/>
<line x1="388.90" y1="3112.50" x2="404.90" y2="3112.50" stroke="#000" stroke-width="1.0" stroke-linecap="butt"/>
<text transform="translate(364.77,3539.88) scale(0.9600,1)" font-size="50.1" text-anchor="end" fill="#000" >0.01</text>
<g transform="translate(364.77,3539.88) scale(0.9600,1)"><rect x="-25.85" y="-6.41" width="9.69" height="7.91" fill="#fff"/><rect x="-9.29" y="-6.41" width="8.99" height="7.91" fill="#fff"/></g>
<text transform="translate(364.77,3403.08) scale(0.9600,1)" font-size="50.1" text-anchor="end" fill="#000" >0.1</text>
<g transform="translate(364.77,3403.08) scale(0.9600,1)"><rect x="-25.85" y="-6.41" width="9.69" height="7.91" fill="#fff"/><rect x="-9.29" y="-6.41" width="8.99" height="7.91" fill="#fff"/></g>
<text transform="translate(364.77,3266.28) scale(0.9600,1)" font-size="50.1" text-anchor="end" fill="#000" >1</text>
<g transform="translate(364.77,3266.28) scale(0.9600,1)"><rect x="-25.85" y="-6.41" width="9.69" height="7.91" fill="#fff"/><rect x="-9.29" y="-6.41" width="8.99" height="7.91" fill="#fff"/></g>
<text transform="translate(363.77,3129.48) scale(0.9600,1)" font-size="50.1" text-anchor="end" fill="#000" >10</text>
<g transform="translate(363.77,3129.48) scale(0.9600,1)"><rect x="-53.71" y="-6.41" width="9.69" height="7.91" fill="#fff"/><rect x="-37.14" y="-6.41" width="8.99" height="7.91" fill="#fff"/></g>
<text transform="translate(363.77,2992.68) scale(0.9600,1)" font-size="50.1" text-anchor="end" fill="#000" >100</text>
<g transform="translate(363.77,2992.68) scale(0.9600,1)"><rect x="-81.56" y="-6.41" width="9.69" height="7.91" fill="#fff"/><rect x="-65.00" y="-6.41" width="8.99" height="7.91" fill="#fff"/></g>
<rect x="388.90" y="2975.10" width="1091.80" height="547.00" fill="none" stroke="#000" stroke-width="4.2" stroke-linejoin="round"/>
<text x="660.20" y="3482.78" font-size="48" text-anchor="middle" fill="#fff" stroke="#fff" stroke-width="1">++</text>
<text x="794.80" y="3459.88" font-size="48" text-anchor="middle" fill="#fff" stroke="#fff" stroke-width="1">++</text>
<text x="933.00" y="3296.84" font-size="68" text-anchor="middle" fill="#1f3864" >*</text>
<text x="1068.90" y="3239.04" font-size="68" text-anchor="middle" fill="#fff" letter-spacing="1.4">**</text>
<text x="1207.00" y="3212.94" font-size="68" text-anchor="middle" fill="#ff0000" letter-spacing="1.4">**</text>
<text x="1342.70" y="3270.04" font-size="68" text-anchor="middle" fill="#fff" letter-spacing="1.4">**</text>
<text x="1174.20" y="2936.30" font-size="41" text-anchor="start" fill="#000" letter-spacing="-0.58">MG-132</text>
<g transform="translate(1174.20,2936.30) scale(1.0000,1)"><rect x="79.60" y="-5.48" width="7.93" height="6.98" fill="#fff"/><rect x="93.16" y="-5.48" width="7.36" height="6.98" fill="#fff"/></g>
<text transform="translate(105.6,2365.1) rotate(-90)" x="0" y="0" font-size="65" fill="#000">Resistance relative to S cells</text>
<rect x="1687" y="1408.5" width="513.2" height="819.3" fill="none" stroke="#000" stroke-width="2"/>
<rect x="1716.4" y="1465.75" width="174.6" height="34.7" fill="#00ff00" stroke="#000" stroke-width="5.5" stroke-linejoin="round"/>
<rect x="1716.4" y="1560.55" width="174.6" height="34.7" fill="#ff0000" stroke="#000" stroke-width="5.5" stroke-linejoin="round"/>
<rect x="1716.4" y="1655.35" width="174.6" height="34.7" fill="#0000ff" stroke="#000" stroke-width="5.5" stroke-linejoin="round"/>
<rect x="1716.4" y="1762.75" width="174.6" height="34.7" fill="#ffff00" stroke="#000" stroke-width="5.5" stroke-linejoin="round"/>
<rect x="1716.4" y="1883.45" width="174.6" height="34.7" fill="#800000" stroke="#000" stroke-width="5.5" stroke-linejoin="round"/>
<rect x="1716.4" y="2003.65" width="174.6" height="34.7" fill="#00ffff" stroke="#000" stroke-width="5.5" stroke-linejoin="round"/>
<rect x="1716.4" y="2124.65" width="174.6" height="34.7" fill="#808080" stroke="#000" stroke-width="5.5" stroke-linejoin="round"/>
<text transform="translate(1935.70,1510.20) scale(0.9500,1)" font-size="81" text-anchor="start" fill="#000" >S</text>
<text transform="translate(1935.70,1606.50) scale(0.9500,1)" font-size="81" text-anchor="start" fill="#000" >R</text>
<text transform="translate(1935.70,1700.20) scale(0.9500,1)" font-size="81" text-anchor="start" fill="#000" >T</text>
<text transform="translate(1935.70,1793.30) scale(0.9500,1)" font-size="81" text-anchor="start" fill="#000" >S</text>
<text transform="translate(1985.60,1820.70) scale(0.9450,1)" font-size="54.5" text-anchor="start" fill="#000" letter-spacing="1.6">Tun</text>
<text transform="translate(1935.70,1914.30) scale(0.9500,1)" font-size="81" text-anchor="start" fill="#000" >S</text>
<text transform="translate(1985.60,1941.60) scale(0.9450,1)" font-size="54.5" text-anchor="start" fill="#000" >Thap</text>
<text transform="translate(1935.70,2034.50) scale(0.9500,1)" font-size="81" text-anchor="start" fill="#000" >S</text>
<text transform="translate(1985.20,2062.60) scale(0.9450,1)" font-size="54.5" text-anchor="start" fill="#000" >Bor</text>
<text transform="translate(1935.70,2155.40) scale(0.9500,1)" font-size="81" text-anchor="start" fill="#000" >S</text>
<text transform="translate(1985.20,2182.40) scale(0.9450,1)" font-size="54.5" text-anchor="start" fill="#000" >MG-132</text>
<g transform="translate(1985.20,2182.40) scale(0.9450,1)"><rect x="108.13" y="-6.86" width="10.54" height="8.36" fill="#fff"/><rect x="126.15" y="-6.86" width="9.78" height="8.36" fill="#fff"/></g></svg></body></html>
